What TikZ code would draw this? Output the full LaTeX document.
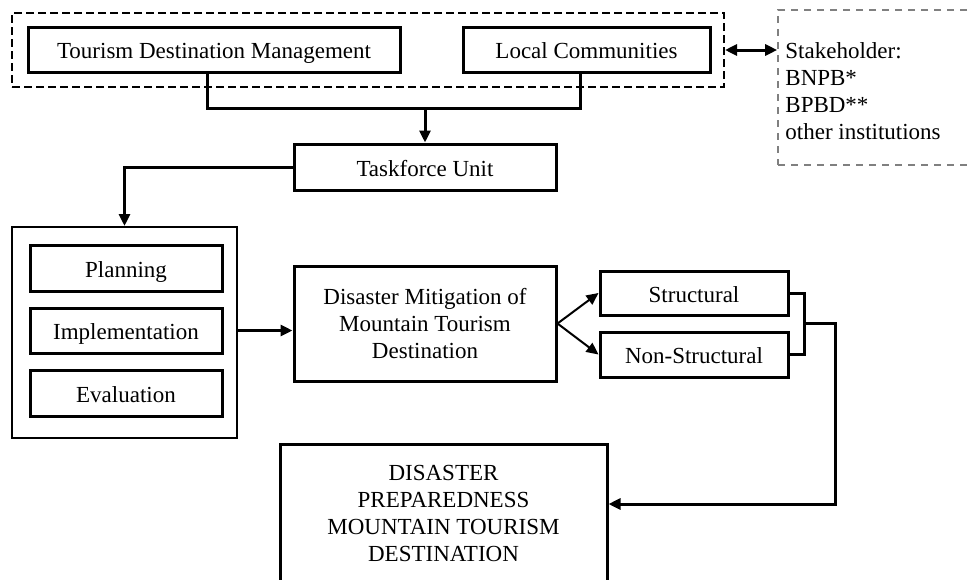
\documentclass[tikz,border=0pt]{standalone}
\usepackage{fontspec}
\setmainfont{Liberation Serif}
\usetikzlibrary{arrows.meta,calc}
\begin{document}
\begin{tikzpicture}[x=0.5pt,y=-0.5pt,
  font=\fontsize{11.5pt}{13.5pt}\selectfont,
  box/.style={draw,line width=1.5pt,inner sep=0pt,align=center},
  one/.style={text height=11pt,text depth=1.8pt},
  link/.style={draw,line width=1.5pt},
  arr/.style={draw,line width=1.5pt,-{Triangle[length=6pt,width=5.5pt]}},
  thinarr/.style={draw,line width=1pt,-{Triangle[length=6pt,width=5.5pt]}}]
\useasboundingbox (0,0) rectangle (969,579);
% top group
\node[draw,line width=1pt,dash pattern=on 4pt off 2pt,minimum width=356pt,minimum height=37pt,inner sep=0pt] (grp) at (368,50) {};
\node[box,one,minimum width=186pt,minimum height=22.5pt] (tdm) at (214,49.5) {Tourism Destination Management};
\node[box,one,minimum width=123.5pt,minimum height=22.5pt] (lc) at (586.5,49.5) {Local Communities};
% stakeholder
\node[draw=gray,line width=0.8pt,dash pattern=on 3.5pt off 3pt,minimum width=106pt,minimum height=77.5pt,inner sep=0pt] (stk) at (884,87.5) {};
\node[align=left,anchor=west,inner sep=0pt] (stkt) at (785,91) {Stakeholder:\\BNPB*\\BPBD**\\other institutions};
% taskforce
\node[box,one,minimum width=131pt,minimum height=23pt] (tf) at (425,167) {Taskforce Unit};
% left container
\node[draw,line width=1pt,minimum width=112.5pt,minimum height=105.5pt,inner sep=0pt] (cont) at (124.5,332.5) {};
\node[box,one,minimum width=96pt,minimum height=23pt] (plan) at (126,268) {Planning};
\node[box,one,minimum width=96pt,minimum height=22.5pt] (impl) at (126,330.5) {Implementation};
\node[box,one,minimum width=96pt,minimum height=23pt] (eval) at (126,393.5) {Evaluation};
% mitigation
\node[box,minimum width=131pt,minimum height=57.5pt] (dm) at (425,323.5) {Disaster Mitigation of\\Mountain Tourism\\Destination};
\node[box,one,minimum width=94pt,minimum height=22pt] (str) at (694,293) {Structural};
\node[box,one,minimum width=94pt,minimum height=22.5pt] (nst) at (694,354.5) {Non-Structural};
% preparedness
\node[box,minimum width=163.5pt,minimum height=69pt] (dp) at (443.5,513) {DISASTER\\PREPAREDNESS\\MOUNTAIN TOURISM\\DESTINATION};
% connectors
\coordinate (ja) at (207,108);
\coordinate (jb) at (580,108);
\coordinate (jc) at (425,108);
\draw[link] (ja |- tdm.south) -- (ja) -- (jb) -- (jb |- lc.south);
\draw[arr] (jc) -- (tf.north);
\draw[arr] (tf.west) -| (cont.north);
\draw[arr] (cont.east |- impl.east) -- (dm.west |- impl.east);
\draw[thinarr] (dm.east) -- (str.west);
\draw[thinarr] (dm.east) -- (nst.west);
\coordinate (b1) at (804,323);
\coordinate (b2) at (835,504);
\draw[link] (str.east) -| (b1) |- (nst.east);
\draw[arr] (b1) -| (b2) -- (b2 -| dp.east);
\draw[link,{Triangle[length=6pt,width=5.5pt]}-{Triangle[length=6pt,width=5.5pt]}] (grp.east) -- (grp.east -| stk.west);
\end{tikzpicture}
\end{document}
